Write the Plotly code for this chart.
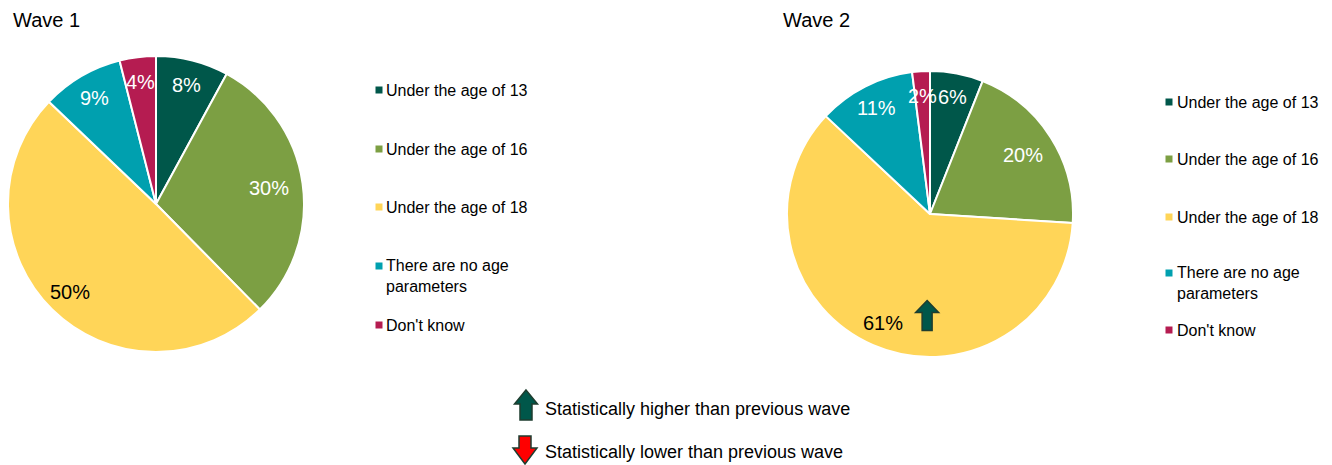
import math
import plotly.graph_objects as go

W, H = 1332, 465

categories = ["Under the age of 13", "Under the age of 16", "Under the age of 18",
              "There are no age parameters", "Don't know"]
legend_labels = ["Under the age of 13", "Under the age of 16", "Under the age of 18",
                 "There are no age<br>parameters", "Don't know"]
wave1_values = [8, 30, 50, 9, 4]
wave2_values = [6, 20, 61, 11, 2]
colors = ["#00574A", "#7C9F43", "#FFD558", "#00A0AF", "#B51C51"]
label_colors = ["white", "white", "black", "white", "white"]
wave2_sig_up = [False, False, True, False, False]

FONT = "Arial, Liberation Sans, sans-serif"


def X(px):
    return px / W


def Y(py):
    return 1 - py / H


# pie geometry (pixels): centre and radius
pies = [
    dict(title="Wave 1", values=wave1_values, cx=156, cy=204, r=148, tx=11,
         leg_sq=379, leg_tx=384, leg_y=[90, 149, 207, 275.5, 325], sig=[False] * 5),
    dict(title="Wave 2", values=wave2_values, cx=930, cy=214, r=143, tx=781,
         leg_sq=1169, leg_tx=1175, leg_y=[102, 159, 217, 282.5, 330], sig=wave2_sig_up),
]

fig = go.Figure()
annotations = []
shapes = []


def up_arrow(cx, ty, by, hw, sw, hh, fill, line):
    pts = [(cx, ty), (cx + hw / 2, ty + hh), (cx + sw / 2, ty + hh), (cx + sw / 2, by),
           (cx - sw / 2, by), (cx - sw / 2, ty + hh), (cx - hw / 2, ty + hh)]
    path = "M " + " L ".join(f"{X(a):.5f},{Y(b):.5f}" for a, b in pts) + " Z"
    return dict(type="path", xref="paper", yref="paper", path=path,
                fillcolor=fill, line=dict(color=line, width=1.5))


def down_arrow(cx, ty, by, hw, sw, hh, fill, line):
    pts = [(cx, by), (cx + hw / 2, by - hh), (cx + sw / 2, by - hh), (cx + sw / 2, ty),
           (cx - sw / 2, ty), (cx - sw / 2, by - hh), (cx - hw / 2, by - hh)]
    path = "M " + " L ".join(f"{X(a):.5f},{Y(b):.5f}" for a, b in pts) + " Z"
    return dict(type="path", xref="paper", yref="paper", path=path,
                fillcolor=fill, line=dict(color=line, width=1.5))


for p in pies:
    cx, cy, r = p["cx"], p["cy"], p["r"]
    fig.add_trace(go.Pie(
        labels=categories, values=p["values"], sort=False, direction="clockwise",
        rotation=0, marker=dict(colors=colors, line=dict(color="white", width=2)),
        textinfo="none", hoverinfo="label+value", showlegend=False,
        domain=dict(x=[X(cx - r), X(cx + r)], y=[Y(cy + r), Y(cy - r)]),
    ))
    total = sum(p["values"])
    cum = 0
    for i, v in enumerate(p["values"]):
        mid = (cum + v / 2) / total * 2 * math.pi
        cum += v
        rr = (0.77 if 15 <= v <= 40 else 0.83) * r
        lx = cx + rr * math.sin(mid)
        ly = cy - rr * math.cos(mid)
        annotations.append(dict(x=X(lx), y=Y(ly), xref="paper", yref="paper",
                                text=f"{v}%", showarrow=False, xanchor="center",
                                yanchor="middle",
                                font=dict(family=FONT, size=20, color=label_colors[i])))
        if p["sig"][i]:
            ax = cx + 0.71 * r * math.sin(mid - 0.38)
            ay = cy - 0.71 * r * math.cos(mid - 0.38)
            shapes.append(up_arrow(ax, ay - 15, ay + 15, 23, 10, 12, "#00574A", "#1E3D2F"))
    # title
    annotations.append(dict(x=X(p["tx"]), y=Y(20), xref="paper", yref="paper",
                            text=p["title"], showarrow=False, xanchor="left",
                            yanchor="middle", font=dict(family=FONT, size=20, color="black")))
    # legend
    for i, lab in enumerate(legend_labels):
        yy = p["leg_y"][i]
        sy = yy - 9.5 if "<br>" in lab else yy
        shapes.append(dict(type="rect", xref="paper", yref="paper",
                           x0=X(p["leg_sq"] - 3.5), x1=X(p["leg_sq"] + 3.5),
                           y0=Y(sy + 3.5), y1=Y(sy - 3.5),
                           fillcolor=colors[i], line=dict(width=0)))
        annotations.append(dict(x=X(p["leg_tx"]), y=Y(yy), xref="paper", yref="paper",
                                text=lab, showarrow=False, xanchor="left", yanchor="middle",
                                align="left",
                                font=dict(family=FONT, size=16, color="black")))

# significance key
shapes.append(up_arrow(526, 390, 420, 23, 12, 14, "#00574A", "#1E3D2F"))
shapes.append(down_arrow(525, 436, 464, 24, 12, 16, "#FF0000", "#1E3D2F"))
annotations.append(dict(x=X(543), y=Y(409), xref="paper", yref="paper",
                        text="Statistically higher than previous wave", showarrow=False,
                        xanchor="left", yanchor="middle",
                        font=dict(family=FONT, size=18, color="black")))
annotations.append(dict(x=X(543), y=Y(452), xref="paper", yref="paper",
                        text="Statistically lower than previous wave", showarrow=False,
                        xanchor="left", yanchor="middle",
                        font=dict(family=FONT, size=18, color="black")))

fig.update_layout(width=W, height=H, margin=dict(l=0, r=0, t=0, b=0),
                  paper_bgcolor="white", plot_bgcolor="white",
                  annotations=annotations, shapes=shapes, showlegend=False)

fig.write_html("out.html")
